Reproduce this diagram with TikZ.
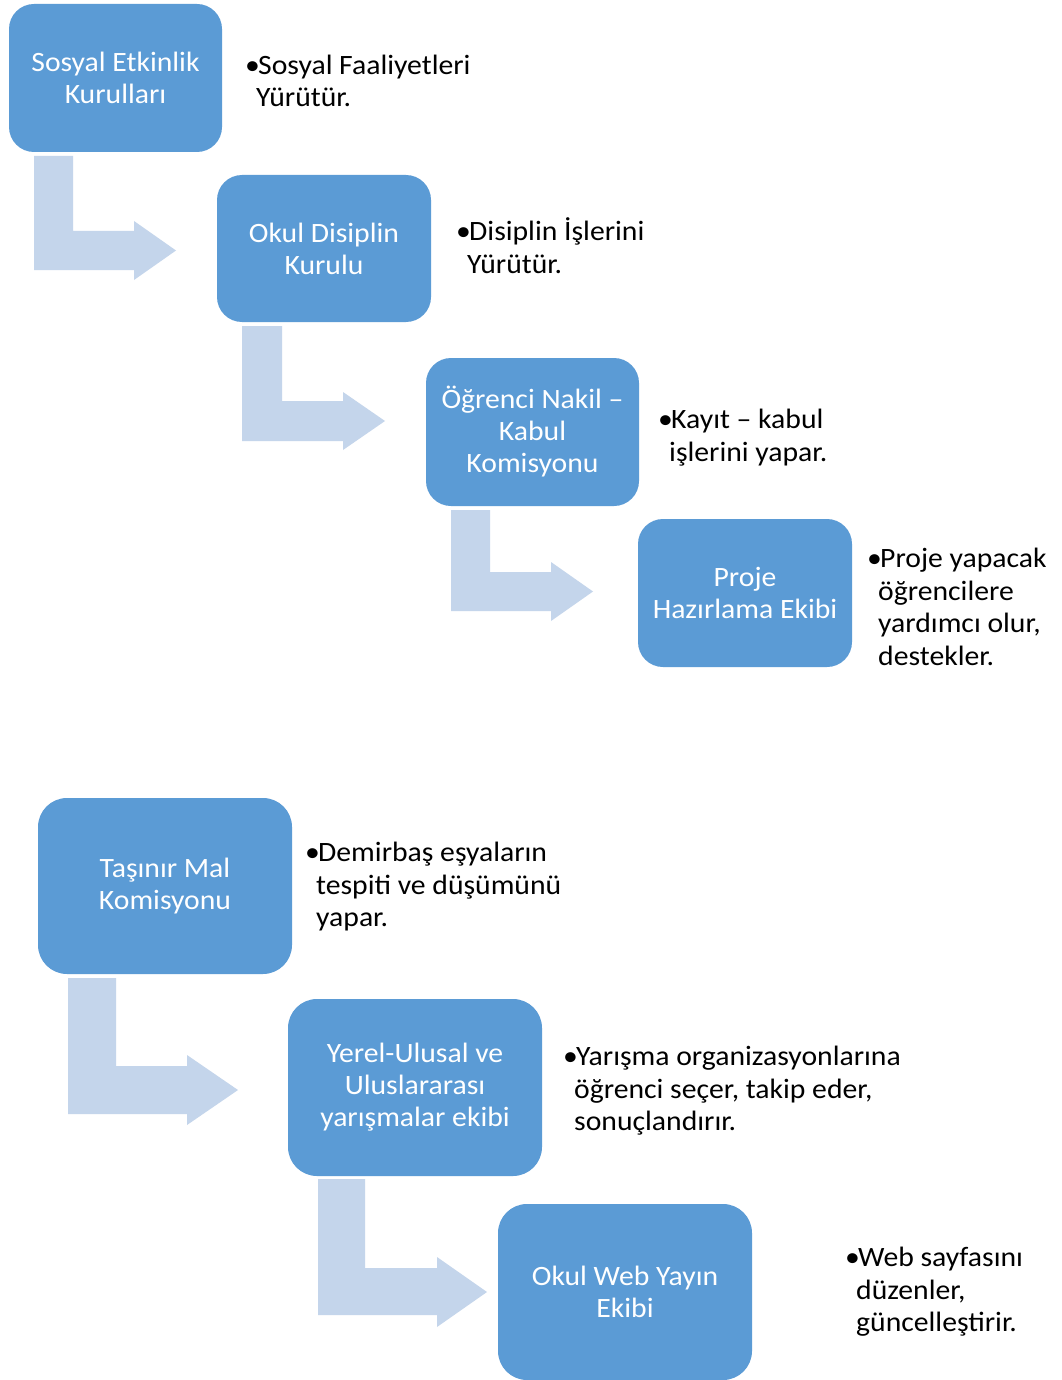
\documentclass[tikz,border=0pt]{standalone}
\usepackage{fontspec}
\setmainfont{Carlito}[FakeStretch=1.06]
\definecolor{boxblue}{HTML}{5B9BD5}
\definecolor{arrowblue}{HTML}{C4D5EB}
\newcommand\bentarr[9]{%
  \fill[arrowblue] (#1,#3) -- (#2,#3) -- (#2,#4) -- (#6,#4) -- (#6,#7)
    -- (#9,{(#7+#8)/2}) -- (#6,#8) -- (#6,#5) -- (#1,#5) -- cycle;}
\begin{document}
\begin{tikzpicture}[x=1pt,y=-1pt,
  boxA/.style={fill=boxblue, draw=none, rounded corners=25pt, inner sep=0pt,
    align=center, text=white, font=\fontsize{28}{32}\selectfont},
  boxB/.style={boxA, rounded corners=29pt},
  desc/.style={anchor=base west, align=left, inner sep=0pt, text=black,
    font=\fontsize{28}{32.5}\selectfont}]
\useasboundingbox (0,0) rectangle (1061,1380);
\fill[white] (0,0) rectangle (1061,1380);

% bent arrows
\bentarr{34}{73}{156}{231}{270}{134}{221}{280}{176}
\bentarr{242}{282}{326}{401}{441}{343}{392}{450}{385}
\bentarr{451}{490}{510}{572}{611}{551}{562}{621}{593}
\bentarr{68}{116}{978}{1066}{1114}{187}{1055}{1125}{238}
\bentarr{318}{365}{1179}{1268}{1315}{437}{1257}{1327}{487}

% boxes
\node[boxA, minimum width=213pt, minimum height=148pt] (b1) at (115.5,78) {Sosyal Etkinlik\\Kurulları};
\node[boxA, minimum width=214pt, minimum height=147pt] (b2) at (324,248.5) {Okul Disiplin\\Kurulu};
\node[boxA, minimum width=213pt, minimum height=148pt] (b3) at (532.5,432) {Öğrenci Nakil –\\Kabul\\Komisyonu};
\node[boxA, minimum width=214pt, minimum height=148pt] (b4) at (745,593) {Proje\\Hazırlama Ekibi};
\node[boxB, minimum width=254pt, minimum height=176pt] (b5) at (165,886) {Taşınır Mal\\Komisyonu};
\node[boxB, minimum width=254pt, minimum height=177pt] (b6) at (415,1087.5) {Yerel-Ulusal ve\\Uluslararası\\yarışmalar ekibi};
\node[boxB, minimum width=254pt, minimum height=176pt] (b7) at (625,1292) {Okul Web Yayın\\Ekibi};

% descriptions (anchored at the baseline of the last line)
\node[desc] (t1) at (245,107) {\makebox[13pt][l]{•}Sosyal Faaliyetleri\\\hspace*{11pt}Yürütür.};
\node[desc] (t2) at (456,273) {\makebox[13pt][l]{•}Disiplin İşlerini\\\hspace*{11pt}Yürütür.};
\node[desc] (t3) at (658,461) {\makebox[13pt][l]{•}Kayıt – kabul\\\hspace*{11pt}işlerini yapar.};
\node[desc] (t4) at (867,665) {\makebox[13pt][l]{•}Proje yapacak\\\hspace*{11pt}öğrencilere\\\hspace*{11pt}yardımcı olur,\\\hspace*{11pt}destekler.};
\node[desc] (t5) at (305,926.5) {\makebox[13pt][l]{•}Demirbaş eşyaların\\\hspace*{11pt}tespiti ve düşümünü\\\hspace*{11pt}yapar.};
\node[desc] (t6) at (563,1130.5) {\makebox[13pt][l]{•}Yarışma organizasyonlarına\\\hspace*{11pt}öğrenci seçer, takip eder,\\\hspace*{11pt}sonuçlandırır.};
\node[desc] (t7) at (845,1331.5) {\makebox[13pt][l]{•}Web sayfasını\\\hspace*{11pt}düzenler,\\\hspace*{11pt}güncelleştirir.};
\end{tikzpicture}
\end{document}
